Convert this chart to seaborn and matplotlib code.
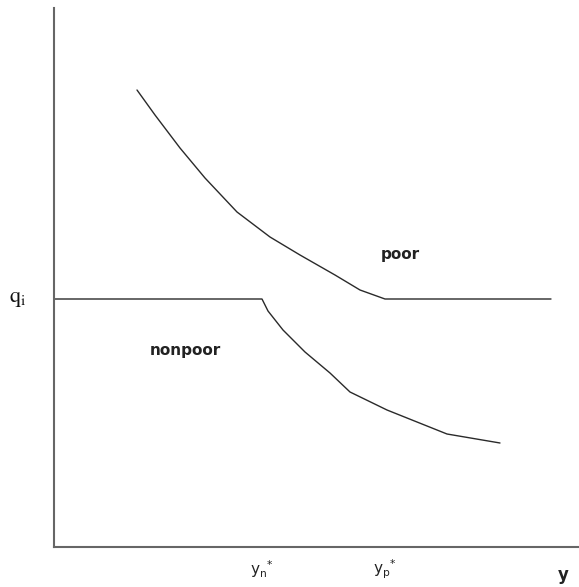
import matplotlib
matplotlib.use("Agg")
import matplotlib.pyplot as plt
import seaborn as sns
import pandas as pd

# poor curve (x = income, q = quantity), in chart units
poor_x = [83, 101, 126, 151, 183, 216, 246, 281, 306, 331, 497]
poor_q = [457, 432, 399, 369, 335, 310, 292, 272, 257, 248, 248]

# nonpoor curve
nonpoor_x = [0, 208, 214, 229, 251, 276, 296, 333, 393, 446]
nonpoor_q = [248, 248, 236, 217, 195, 174, 155, 137, 113, 104]

q_level = 248
yn_star = 208
yp_star = 331

sns.set_style("white")
plt.rcParams['font.family'] = ['DejaVu Sans']

fig = plt.figure(figsize=(5.79, 5.87), dpi=100)
ax = fig.add_axes([54/579, 40/587, 525/579, 539/587])

df = pd.concat([
    pd.DataFrame({"x": poor_x, "q": poor_q, "g": "poor"}),
    pd.DataFrame({"x": nonpoor_x, "q": nonpoor_q, "g": "nonpoor"}),
])
sns.lineplot(data=df, x="x", y="q", units="g", estimator=None, sort=False,
             color="#2a2a2a", linewidth=1.0, ax=ax)

ax.set_xlim(0, 525)
ax.set_ylim(0, 539)
ax.set_xticks([])
ax.set_yticks([])
ax.set_xlabel("")
ax.set_ylabel("")
for s in ["top", "right"]:
    ax.spines[s].set_visible(False)
for s in ["left", "bottom"]:
    ax.spines[s].set_color("#666666")
    ax.spines[s].set_linewidth(1.5)

ax.text(-36, q_level, r"$\mathrm{q_i}$", fontsize=16, math_fontfamily="stix",
        ha="center", va="center", color="#111111")
ax.text(yn_star, -22, r"$\mathregular{y_n}^{*}$", fontsize=11, ha="center", va="center",
        color="#222222")
ax.text(yp_star, -22, r"$\mathregular{y_p}^{*}$", fontsize=11, ha="center", va="center",
        color="#222222")
ax.text(509, -28, "y", fontsize=12, fontweight="bold", ha="center", va="center",
        color="#222222")
ax.text(346, 292, "poor", fontsize=11, fontweight="bold", ha="center", va="center",
        color="#222222")
ax.text(131, 197, "nonpoor", fontsize=11, fontweight="bold", ha="center", va="center",
        color="#222222")

fig.savefig("out.png", dpi=100)
